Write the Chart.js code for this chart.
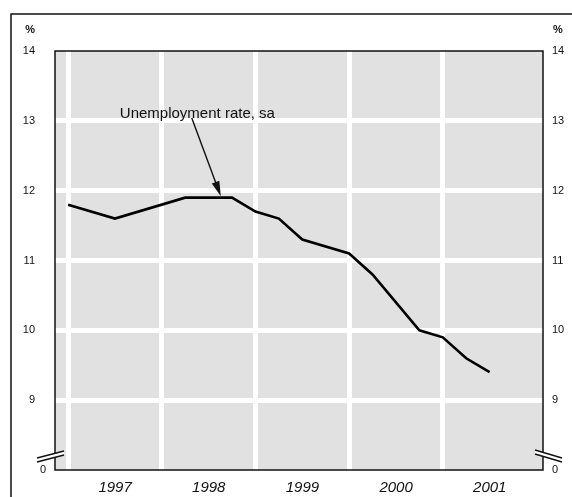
<!DOCTYPE html>
<html>
<head>
<meta charset="utf-8">
<script src="https://cdn.jsdelivr.net/npm/chart.js@4.4.1/dist/chart.umd.min.js"></script>
<style>
  body { margin: 0; background: #fff; }
  #wrap { width: 572px; height: 497px; }
</style>
</head>
<body>
<div id="wrap"><canvas id="rateChart" width="572" height="497"></canvas></div>
<script>
// quarter positions (fractional years) and unemployment rate, sa (%)
const dates = [1997.0, 1997.5, 1998.25, 1998.75, 1999.0, 1999.25, 1999.5, 2000.0, 2000.25, 2000.75, 2001.0, 2001.25, 2001.5];
const rate = [11.8, 11.6, 11.9, 11.9, 11.7, 11.6, 11.3, 11.1, 10.8, 10.0, 9.9, 9.6, 9.4];
const years = [1997, 1998, 1999, 2000, 2001];
const yTicks = [8, 9, 10, 11, 12, 13, 14]; // 8 is shown as 0 (axis break)

const FONT = "'Liberation Sans', Arial, sans-serif";

// draws a pair of break strokes with a white gap between them
function breakMark(ctx, xa, ya, xb, yb) {
  ctx.fillStyle = '#fff';
  ctx.beginPath();
  ctx.moveTo(xa, ya); ctx.lineTo(xb, yb);
  ctx.lineTo(xb, yb + 4); ctx.lineTo(xa, ya + 4);
  ctx.closePath();
  ctx.fill();
  ctx.beginPath();
  ctx.moveTo(xa, ya); ctx.lineTo(xb, yb);
  ctx.moveTo(xa, ya + 4); ctx.lineTo(xb, yb + 4);
  ctx.stroke();
}

// gray plot background, frame, axis breaks, annotation
const decor = {
  id: 'decor',
  beforeDraw(chart) {
    const { ctx, chartArea: a } = chart;
    ctx.save();
    ctx.fillStyle = '#e1e1e1';
    ctx.fillRect(a.left, a.top, a.right - a.left, a.bottom - a.top);
    // outer frame (left and top)
    ctx.strokeStyle = '#111';
    ctx.lineWidth = 1.5;
    ctx.beginPath();
    ctx.moveTo(11, 497);
    ctx.lineTo(11, 14);
    ctx.lineTo(572, 14);
    ctx.stroke();
    ctx.restore();
  },
  afterDatasetsDraw(chart) {
    const { ctx, chartArea: a, scales } = chart;
    const x = scales.x, y = scales.y;
    ctx.save();
    ctx.strokeStyle = '#111';
    ctx.lineWidth = 1.5;
    ctx.strokeRect(a.left, a.top, a.right - a.left, a.bottom - a.top);

    // axis break marks
    ctx.lineWidth = 1.4;
    breakMark(ctx, a.left - 18, a.bottom - 12, a.left + 9, a.bottom - 19);
    breakMark(ctx, a.right - 8, a.bottom - 20, a.right + 19, a.bottom - 12);

    // "%" units
    ctx.fillStyle = '#111';
    ctx.font = 'bold 11px ' + FONT;
    ctx.textBaseline = 'middle';
    ctx.textAlign = 'right';
    ctx.fillText('%', 35, 30);
    ctx.textAlign = 'left';
    ctx.fillText('%', 553, 30);

    // left "0" label at the break
    ctx.font = '11px ' + FONT;
    ctx.textAlign = 'center';
    ctx.fillText('0', 43, a.bottom);

    // annotation
    ctx.font = '15px ' + FONT;
    ctx.textAlign = 'center';
    ctx.fillText('Unemployment rate, sa', x.getPixelForValue(1998.38), y.getPixelForValue(13.1));
    const x0 = x.getPixelForValue(1998.32), y0 = y.getPixelForValue(13.04);
    const x1 = x.getPixelForValue(1998.63), y1 = y.getPixelForValue(11.92);
    const ang = Math.atan2(y1 - y0, x1 - x0);
    const c = Math.cos(ang), s = Math.sin(ang);
    ctx.lineWidth = 1.4;
    ctx.beginPath();
    ctx.moveTo(x0, y0);
    ctx.lineTo(x1 - 12 * c, y1 - 12 * s);
    ctx.stroke();
    ctx.beginPath();
    ctx.moveTo(x1, y1);
    ctx.lineTo(x1 - 15 * c + 4 * s, y1 - 15 * s - 4 * c);
    ctx.lineTo(x1 - 15 * c - 4 * s, y1 - 15 * s + 4 * c);
    ctx.closePath();
    ctx.fill();
    ctx.restore();
  }
};

const ctx = document.getElementById('rateChart').getContext('2d');
const rateChart = new Chart(ctx, {
  type: 'line',
  data: {
    datasets: [{
      label: 'Unemployment rate, sa',
      data: dates.map((d, i) => ({ x: d, y: rate[i] })),
      borderColor: '#000',
      borderWidth: 2.6,
      pointRadius: 0,
      tension: 0,
      fill: false
    }]
  },
  options: {
    responsive: false,
    animation: false,
    layout: { padding: { left: 11, top: 51, right: 0, bottom: 0 } },
    plugins: { legend: { display: false }, tooltip: { enabled: false } },
    scales: {
      x: {
        type: 'linear',
        min: 1996.86,
        max: 2002.07,
        afterBuildTicks(scale) { scale.ticks = years.map(v => ({ value: v })); },
        afterFit(scale) { scale.height = 27; },
        border: { display: false },
        grid: { color: '#fff', lineWidth: 5, drawTicks: false },
        ticks: {
          padding: 9,
          labelOffset: 47,
          color: '#111',
          font: { family: FONT, size: 15, style: 'italic' },
          callback: v => String(v)
        }
      },
      y: {
        type: 'linear',
        position: 'left',
        min: 8,
        max: 14,
        afterBuildTicks(scale) { scale.ticks = yTicks.map(v => ({ value: v })); },
        afterFit(scale) { scale.width = 44; },
        border: { display: false },
        grid: {
          drawTicks: false,
          lineWidth: 5,
          color: c => (c.tick && c.tick.value > 8 && c.tick.value < 14) ? '#fff' : 'rgba(0,0,0,0)'
        },
        ticks: {
          padding: 20,
          color: '#111',
          font: { family: FONT, size: 11 },
          callback: v => v === 8 ? '' : String(v)
        }
      },
      y2: {
        type: 'linear',
        position: 'right',
        min: 8,
        max: 14,
        afterBuildTicks(scale) { scale.ticks = yTicks.map(v => ({ value: v })); },
        afterFit(scale) { scale.width = 29; },
        border: { display: false },
        grid: { display: false, drawTicks: false },
        ticks: {
          padding: 9,
          color: '#111',
          font: { family: FONT, size: 11 },
          callback: v => v === 8 ? '0' : String(v)
        }
      }
    }
  },
  plugins: [decor]
});
</script>
</body>
</html>
